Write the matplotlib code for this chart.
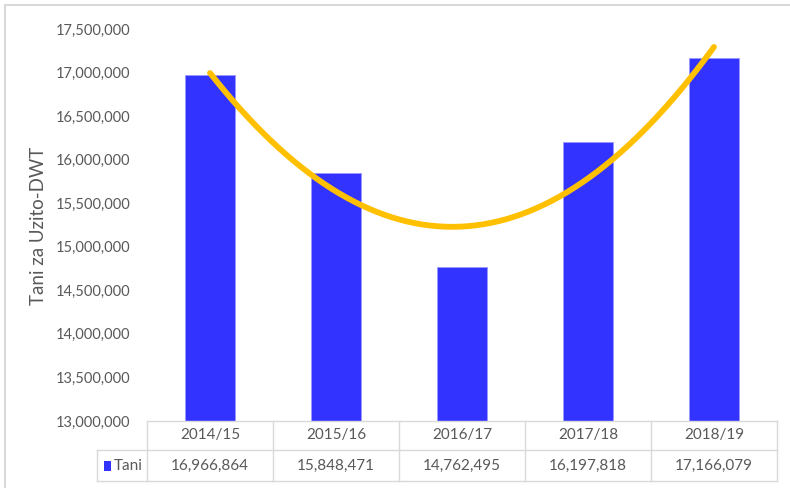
import numpy as np
import matplotlib
matplotlib.use("Agg")
import matplotlib.pyplot as plt
from matplotlib.patches import Rectangle
from matplotlib.lines import Line2D
import matplotlib.transforms as mtransforms
from matplotlib.ticker import FuncFormatter

categories = ["2014/15", "2015/16", "2016/17", "2017/18", "2018/19"]
values = [16966864, 15848471, 14762495, 16197818, 17166079]
series_name = "Tani"
ylabel = "Tani za Uzito-DWT"
yticks = [13000000 + 500000 * i for i in range(10)]

W, H = 790, 488
plt.rcParams['font.family'] = ['Lato', 'DejaVu Sans']
fig = plt.figure(figsize=(W / 100, H / 100), dpi=100)

def px(x0, y0, x1, y1):
    return [x0 / W, 1 - y1 / H, (x1 - x0) / W, (y1 - y0) / H]

ax = fig.add_axes(px(147, 29, 777, 421))
x = np.arange(len(categories))
ax.bar(x, values, width=0.4, color="#3333FF", edgecolor="#9999FF", linewidth=0.6, zorder=2)

# polynomial (order 2) trendline
coef = np.polyfit(x, values, 2)
xs = np.linspace(x[0], x[-1], 200)
ax.plot(xs, np.polyval(coef, xs), color="#FFC000", lw=4.2, solid_capstyle="round", zorder=3)

ax.set_xlim(-0.5, len(categories) - 0.5)
ax.set_ylim(13000000, 17500000)
ax.set_yticks(yticks)
ax.yaxis.set_major_formatter(FuncFormatter(lambda v, p: f"{int(v):,}"))
ax.tick_params(axis="y", length=0, pad=12, labelsize=10.5, labelcolor="#595959")
ax.set_xticks([])
for s in ax.spines.values():
    s.set_visible(False)

fig.text(39 / W, 1 - 226 / H, ylabel, rotation=90, ha="center", va="center",
         fontsize=13.5, color="#595959")

# data table drawn beneath the axes
trans = mtransforms.blended_transform_factory(ax.transData, ax.transAxes)
ah = 392.0
y_top = 0.0
y_mid = -29 / ah
y_bot = -60 / ah
lab_left = -0.5 - 50 / 126
lc = "#D9D9D9"
lw = 1.0
def hline(x0, x1, y):
    ax.add_line(Line2D([x0, x1], [y, y], transform=trans, color=lc, lw=lw, clip_on=False))
def vline(xx, y0, y1):
    ax.add_line(Line2D([xx, xx], [y0, y1], transform=trans, color=lc, lw=lw, clip_on=False))

hline(-0.5, len(categories) - 0.5, y_top)
hline(lab_left, len(categories) - 0.5, y_mid)
hline(lab_left, len(categories) - 0.5, y_bot)
vline(lab_left, y_mid, y_bot)
for b in np.arange(-0.5, len(categories), 1.0):
    vline(b, y_top, y_bot)

for i, (c, v) in enumerate(zip(categories, values)):
    ax.text(i, (y_top + y_mid) / 2, c, transform=trans, ha="center", va="center",
            fontsize=11, color="#595959", clip_on=False)
    ax.text(i, (y_mid + y_bot) / 2, f"{v:,}", transform=trans, ha="center", va="center",
            fontsize=11, color="#595959", clip_on=False)

# legend key in the table
ax.add_patch(Rectangle((lab_left + 7 / 126, (y_mid + y_bot) / 2 - 5 / ah), 7 / 126, 10 / ah,
                       transform=trans, facecolor="#3333FF", edgecolor="none", clip_on=False))
ax.text(lab_left + 17 / 126, (y_mid + y_bot) / 2, series_name, transform=trans,
        ha="left", va="center", fontsize=11, color="#595959", clip_on=False)

# outer chart border
fig.patches.append(Rectangle((5 / W, -0.1), 1.2, 1 - 5 / H + 0.1, transform=fig.transFigure,
                             facecolor="none", edgecolor="#D9D9D9", lw=1.5))

fig.savefig("out.png", dpi=100)
